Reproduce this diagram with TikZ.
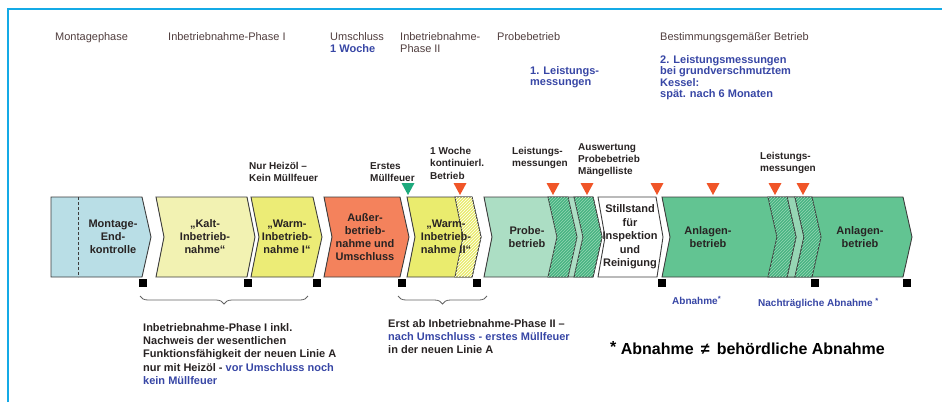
\documentclass[tikz,border=0pt]{standalone}
\usepackage{fontspec}
\setmainfont{Liberation Sans}
\usetikzlibrary{patterns,decorations.pathreplacing}
\definecolor{frameblue}{RGB}{20,170,230}
\definecolor{mblue}{RGB}{185,222,230}
\definecolor{kaltY}{RGB}{242,242,178}
\definecolor{warmY}{RGB}{236,236,118}
\definecolor{orangeC}{RGB}{244,130,92}
\definecolor{warmIIY}{RGB}{234,236,110}
\definecolor{probeG}{RGB}{172,222,196}
\definecolor{stripG}{RGB}{72,180,130}
\definecolor{hatchG}{RGB}{150,215,180}
\definecolor{anlG}{RGB}{98,196,146}
\definecolor{gapG}{RGB}{150,214,180}
\definecolor{triR}{RGB}{240,85,40}
\definecolor{triG}{RGB}{30,170,125}
\definecolor{blueT}{RGB}{55,70,165}
\definecolor{headT}{RGB}{80,62,62}
\definecolor{textD}{RGB}{40,35,35}
\definecolor{outlineC}{RGB}{60,60,60}
\tikzset{
  headtxt/.style={anchor=north west, inner sep=0, font=\fontsize{11}{12.5}\selectfont, text=headT, align=left},
  labtxt/.style={anchor=north west, inner sep=0, font=\bfseries\fontsize{10}{12.3}\selectfont, text=textD, align=left},
  bluetxt/.style={anchor=north west, inner sep=0, font=\bfseries\fontsize{11}{11.6}\selectfont, text=blueT, align=left},
  boxtxt/.style={inner sep=0, font=\bfseries\fontsize{11}{13}\selectfont, text=textD, align=center},
  bottxt/.style={anchor=north west, inner sep=0, font=\bfseries\fontsize{11}{13.4}\selectfont, text=textD, align=left},
  shapeline/.style={draw=outlineC, line width=0.9pt, line join=miter},
  sqbox/.style={fill=black, minimum size=8pt, inner sep=0},
  tri/.style={line join=round},
  bracestyle/.style={draw=outlineC!80, line width=0.8pt, decorate, decoration={brace, mirror, amplitude=8pt}}
}
\begin{document}
\begin{tikzpicture}[x=1pt,y=-1pt]
\useasboundingbox (0,0) rectangle (942,402);
% frame
\draw[frameblue, line width=1.6pt] (8,402) -- (8,9) -- (942,9);

% headings
\node[headtxt] (h1) at (55,32) {Montagephase};
\node[headtxt] (h2) at (168,32) {Inbetriebnahme-Phase I};
\node[headtxt] (h3) at (330,32) {Umschluss\\{\bfseries\color{blueT}1 Woche}};
\node[headtxt] (h4) at (400,32) {Inbetriebnahme-\\Phase II};
\node[headtxt] (h5) at (497,32) {Probebetrieb};
\node[headtxt] (h6) at (660,32) {Bestimmungsgemäßer Betrieb};
\node[bluetxt] (b1) at (530,66) {1. Leistungs-\\messungen};
\node[bluetxt] (b2) at (660,55) {2. Leistungsmessungen\\bei grundverschmutztem\\Kessel:\\spät. nach 6 Monaten};

% shapes
\draw[shapeline, fill=mblue] (51,197) -- (142,197) -- (151,237) -- (142,277) -- (51,277) -- cycle;
\draw[outlineC, line width=0.9pt, densely dashed] (78,197) -- (78,277);
\draw[shapeline, fill=kaltY] (156,197) -- (247,197) -- (255,237) -- (247,277) -- (156,277) -- (164,237) -- cycle;
\draw[shapeline, fill=warmY] (251,197) -- (313,197) -- (322,237) -- (313,277) -- (251,277) -- (259,237) -- cycle;
\draw[shapeline, fill=orangeC] (324,197) -- (400,197) -- (409,237) -- (400,277) -- (324,277) -- (332,237) -- cycle;
\draw[shapeline, fill=warmIIY] (407,197) -- (472,197) -- (481,237) -- (472,277) -- (407,277) -- (415,237) -- cycle;
\draw[shapeline, fill=warmIIY, postaction={pattern=north east lines, pattern color=white}] (455,197) -- (472,197) -- (481,237) -- (472,277) -- (455,277) -- (463,237) -- cycle;
\draw[shapeline, fill=probeG] (484,197) -- (593,197) -- (602,237) -- (593,277) -- (484,277) -- (492,237) -- cycle;
\draw[shapeline, fill=stripG, postaction={pattern=north east lines, pattern color=hatchG}] (548,197) -- (568,197) -- (577,237) -- (568,277) -- (548,277) -- (557,237) -- cycle;
\draw[shapeline, fill=stripG, postaction={pattern=north east lines, pattern color=hatchG}] (574,197) -- (593,197) -- (602,237) -- (593,277) -- (574,277) -- (583,237) -- cycle;
\draw[shapeline, fill=white] (598,197) -- (656,197) -- (663,237) -- (657,277) -- (598,277) -- (605,237) -- cycle;
\draw[shapeline, fill=anlG] (662,197) -- (903,197) -- (912,237) -- (903,277) -- (662,277) -- (670,237) -- cycle;
\draw[shapeline, fill=gapG] (787,197) -- (795,197) -- (804,237) -- (795,277) -- (787,277) -- (796,237) -- cycle;
\draw[shapeline, fill=stripG, postaction={pattern=north east lines, pattern color=hatchG}] (768,197) -- (787,197) -- (796,237) -- (787,277) -- (768,277) -- (777,237) -- cycle;
\draw[shapeline, fill=stripG, postaction={pattern=north east lines, pattern color=hatchG}] (795,197) -- (812,197) -- (821,237) -- (812,277) -- (795,277) -- (804,237) -- cycle;

% texts in shapes
\node[boxtxt] (t1) at (113,237) {Montage-\\End-\\kontrolle};
\node[boxtxt] (t2) at (205,237) {„Kalt-\\Inbetrieb-\\nahme“};
\node[boxtxt] (t3) at (287,237) {„Warm-\\Inbetrieb-\\nahme I“};
\node[boxtxt] (t4) at (365,237) {Außer-\\betrieb-\\nahme und\\Umschluss};
\node[boxtxt] (t5) at (446,237) {„Warm-\\Inbetrieb-\\nahme II“};
\node[boxtxt] (t6) at (527,237) {Probe-\\betrieb};
\node[boxtxt, font=\bfseries\fontsize{11}{13.5}\selectfont] (t7) at (630,237) {Stillstand\\für\\Inspektion\\und\\Reinigung};
\node[boxtxt] (t8) at (708,237) {Anlagen-\\betrieb};
\node[boxtxt] (t9) at (860,237) {Anlagen-\\betrieb};

% triangles
\foreach \x in {460,553,587,657,713,775,803}
  \fill[triR, tri] (\x-6.5,183) -- (\x+6.5,183) -- (\x,195) -- cycle;
\fill[triG, tri] (401.5,183) -- (414.5,183) -- (408,195) -- cycle;

% labels above
\node[labtxt] (l1) at (249,162) {Nur Heizöl –\\Kein Müllfeuer};
\node[labtxt] (l2) at (370,162) {Erstes\\Müllfeuer};
\node[labtxt] (l3) at (430,147) {1 Woche\\kontinuierl.\\Betrieb};
\node[labtxt] (l4) at (512,147) {Leistungs-\\messungen};
\node[labtxt] (l5) at (578,143) {Auswertung\\Probebetrieb\\Mängelliste};
\node[labtxt] (l6) at (760,152) {Leistungs-\\messungen};

% markers
\node[sqbox] (m1) at (143,283) {};
\node[sqbox] (m2) at (248,283) {};
\node[sqbox] (m3) at (317,283) {};
\node[sqbox] (m4) at (402,283) {};
\node[sqbox] (m5) at (477,283) {};
\node[sqbox] (m6) at (662,283) {};
\node[sqbox] (m7) at (815,283) {};
\node[sqbox] (m8) at (907,283) {};

% braces
\coordinate (ba) at (140,296);
\coordinate (bb) at (308,296);
\coordinate (bc) at (398,296);
\coordinate (bd) at (487,296);
\draw[bracestyle] (ba) -- (bb);
\draw[bracestyle] (bc) -- (bd);

% bottom texts
\node[bottxt] (x1) at (143,323) {Inbetriebnahme-Phase I inkl.\\Nachweis der wesentlichen\\Funktionsfähigkeit der neuen Linie A\\nur mit Heizöl - {\color{blueT}vor Umschluss noch}\\{\color{blueT}kein Müllfeuer}};
\node[bottxt] (x2) at (388,319) {Erst ab Inbetriebnahme-Phase II –\\{\color{blueT}nach Umschluss - erstes Müllfeuer}\\in der neuen Linie A};
\node[anchor=base west, inner sep=0, font=\bfseries\fontsize{10}{11}\selectfont, text=blueT] (a1) at (672,304) {Abnahme\raisebox{3pt}{\fontsize{7.5}{8}\selectfont*}};
\node[anchor=base west, inner sep=0, font=\bfseries\fontsize{10}{11}\selectfont, text=blueT] (a2) at (758,306) {Nachträgliche Abnahme \raisebox{3pt}{\fontsize{7.5}{8}\selectfont*}};
\node[anchor=base west, inner sep=0, font=\bfseries\fontsize{16}{19}\selectfont, text=black] (fn) at (610,354) {\raisebox{2pt}{*} Abnahme\,\ ≠\ \,behördliche Abnahme};
\end{tikzpicture}
\end{document}
